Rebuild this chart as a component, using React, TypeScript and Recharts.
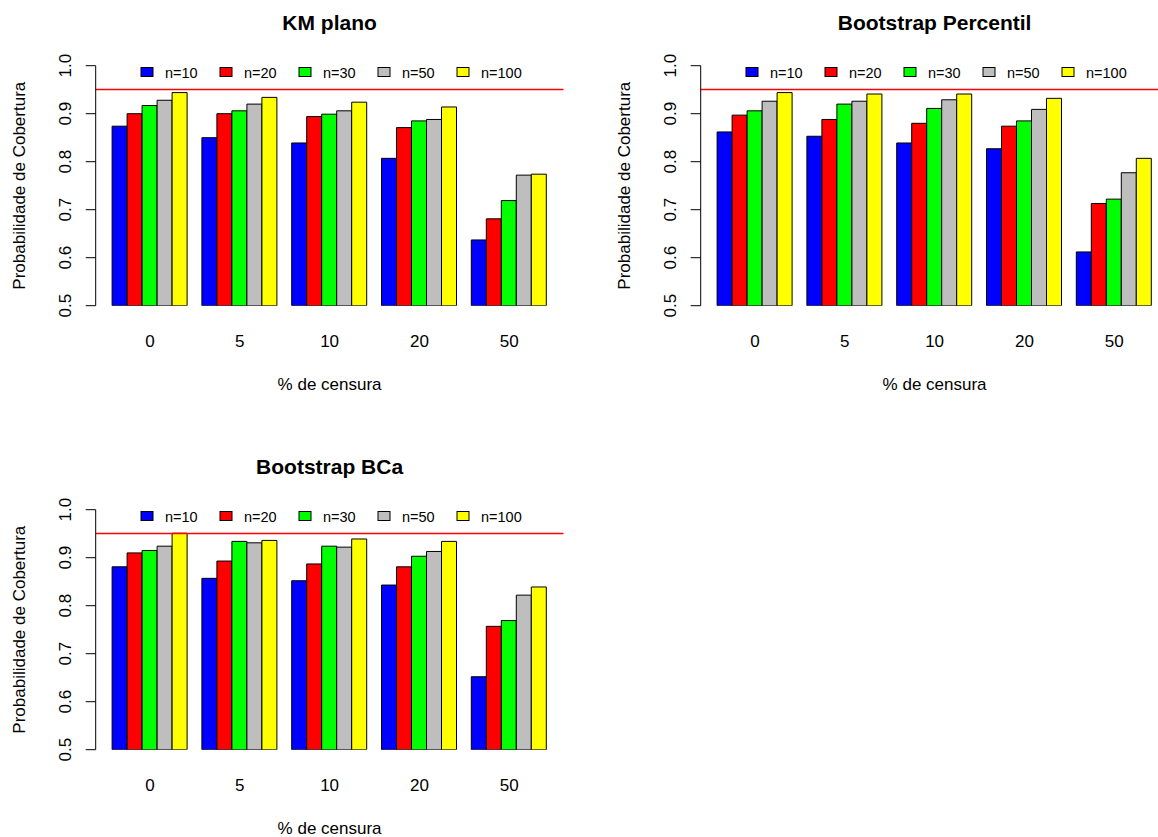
import React from "react";
import { BarChart, Bar, XAxis, YAxis, ReferenceLine } from "recharts";

const censura = ["0", "5", "10", "20", "50"];
const tamanhos = ["n=10", "n=20", "n=30", "n=50", "n=100"];
const cores = ["#0000ff", "#ff0000", "#00ff00", "#bebebe", "#ffff00"];
const yTicks = [0.5, 0.6, 0.7, 0.8, 0.9, 1.0];
const nivelNominal = 0.95;

// uma linha por tamanho de amostra, um valor por % de censura
const kmPlano = [
  [0.874, 0.85, 0.839, 0.807, 0.637],
  [0.9, 0.9, 0.894, 0.871, 0.681],
  [0.917, 0.906, 0.899, 0.885, 0.719],
  [0.928, 0.92, 0.906, 0.888, 0.772],
  [0.944, 0.934, 0.924, 0.914, 0.774],
];

const bootPercentil = [
  [0.862, 0.853, 0.839, 0.827, 0.612],
  [0.897, 0.888, 0.88, 0.874, 0.713],
  [0.906, 0.92, 0.911, 0.885, 0.722],
  [0.926, 0.926, 0.929, 0.909, 0.777],
  [0.944, 0.941, 0.941, 0.932, 0.807],
];

const bootBCa = [
  [0.881, 0.857, 0.852, 0.843, 0.652],
  [0.91, 0.893, 0.887, 0.881, 0.757],
  [0.915, 0.934, 0.924, 0.903, 0.769],
  [0.924, 0.931, 0.922, 0.913, 0.822],
  [0.951, 0.936, 0.939, 0.934, 0.839],
];

const paineis = [
  { titulo: "KM plano", valores: kmPlano, left: 0, top: 0 },
  { titulo: "Bootstrap Percentil", valores: bootPercentil, left: 605, top: 0 },
  { titulo: "Bootstrap BCa", valores: bootBCa, left: 0, top: 444 },
];

// geometria de cada painel (px)
const W = 579;
const H = 420;
const PLOT_LEFT = 95.7;
const PLOT_RIGHT = 563.5;
const PLOT_TOP = 65.7;
const PLOT_BOTTOM = 305.7;
const X_AXIS_H = 60;
const CX = (PLOT_LEFT + PLOT_RIGHT) / 2;

const YTick = (props: any) => {
  const { x, y, payload } = props;
  return (
    <text
      transform={`translate(${x},${y}) rotate(-90)`}
      textAnchor="middle"
      fontSize={17}
      fill="#000"
    >
      {Number(payload.value).toFixed(1)}
    </text>
  );
};

const XTick = (props: any) => {
  const { x, y, payload } = props;
  return (
    <text x={x} y={y} textAnchor="middle" fontSize={17} fill="#000">
      {payload.value}
    </text>
  );
};

// linha horizontal do nivel nominal, encaixada no meio do pixel
const LinhaNominal = (props: any) => {
  const { x1, x2, y1 } = props;
  const y = Math.floor(y1) + 0.5;
  return (
    <path
      d={`M${x1},${y}H${x2}`}
      fill="none"
      style={{ stroke: "rgb(255,0,0)", strokeWidth: 1.4 }}
    />
  );
};

function Painel({ titulo, valores, left, top }: any) {
  const rows = censura.map((c, i) => {
    const row: Record<string, string | number> = { censura: c };
    tamanhos.forEach((t, j) => {
      row[t] = valores[j][i];
    });
    return row;
  });

  return (
    <div style={{ position: "absolute", left, top, width: W, height: H }}>
      <BarChart
        width={W}
        height={H}
        data={rows}
        margin={{
          top: PLOT_TOP,
          right: W - PLOT_RIGHT,
          bottom: H - PLOT_BOTTOM - X_AXIS_H,
          left: 0,
        }}
        barGap={0}
        barCategoryGap={7}
      >
        <XAxis
          dataKey="censura"
          axisLine={false}
          tickLine={false}
          tickSize={0}
          tickMargin={41.3}
          height={X_AXIS_H}
          padding={{ left: 9.4, right: 9.4 }}
          interval={0}
          tick={XTick}
        />
        <YAxis
          type="number"
          domain={[0.5, 1]}
          ticks={yTicks}
          allowDataOverflow
          width={PLOT_LEFT}
          axisLine={{ stroke: "#000" }}
          tickLine={{ stroke: "#000" }}
          tickSize={10}
          tickMargin={14.7}
          tick={YTick}
        />
        {tamanhos.map((t, j) => (
          <Bar
            key={t}
            dataKey={t}
            fill={cores[j]}
            stroke="#000"
            strokeWidth={1}
            isAnimationActive={false}
          />
        ))}
        <ReferenceLine
          y={nivelNominal}
          stroke="#ff0000"
          ifOverflow="visible"
          shape={LinhaNominal}
        />
      </BarChart>

      <svg
        width={W}
        height={H}
        style={{ position: "absolute", left: 0, top: 0, pointerEvents: "none" }}
      >
        <text x={CX} y={30} textAnchor="middle" fontSize={21} fontWeight="bold" fill="#000">
          {titulo}
        </text>
        <text
          transform={`translate(25,${(PLOT_TOP + PLOT_BOTTOM) / 2}) rotate(-90)`}
          textAnchor="middle"
          fontSize={17}
          fill="#000"
        >
          Probabilidade de Cobertura
        </text>
        <text x={CX} y={389.5} textAnchor="middle" fontSize={17} fill="#000">
          % de censura
        </text>
        {tamanhos.map((t, j) => (
          <g key={t}>
            <rect
              x={141 + 79 * j}
              y={67.5}
              width={12}
              height={9}
              fill={cores[j]}
              stroke="#000"
              strokeWidth={1}
            />
            <text x={165 + 79 * j} y={77.5} fontSize={14.5} fill="#000">
              {t}
            </text>
          </g>
        ))}
      </svg>
    </div>
  );
}

export default function App() {
  return (
    <div
      style={{
        position: "absolute",
        left: 0,
        top: 0,
        width: 1158,
        height: 837,
        overflow: "hidden",
        background: "#fff",
        fontFamily: "'Liberation Sans', Arial, sans-serif",
      }}
    >
      {paineis.map((p) => (
        <Painel key={p.titulo} {...p} />
      ))}
    </div>
  );
}
